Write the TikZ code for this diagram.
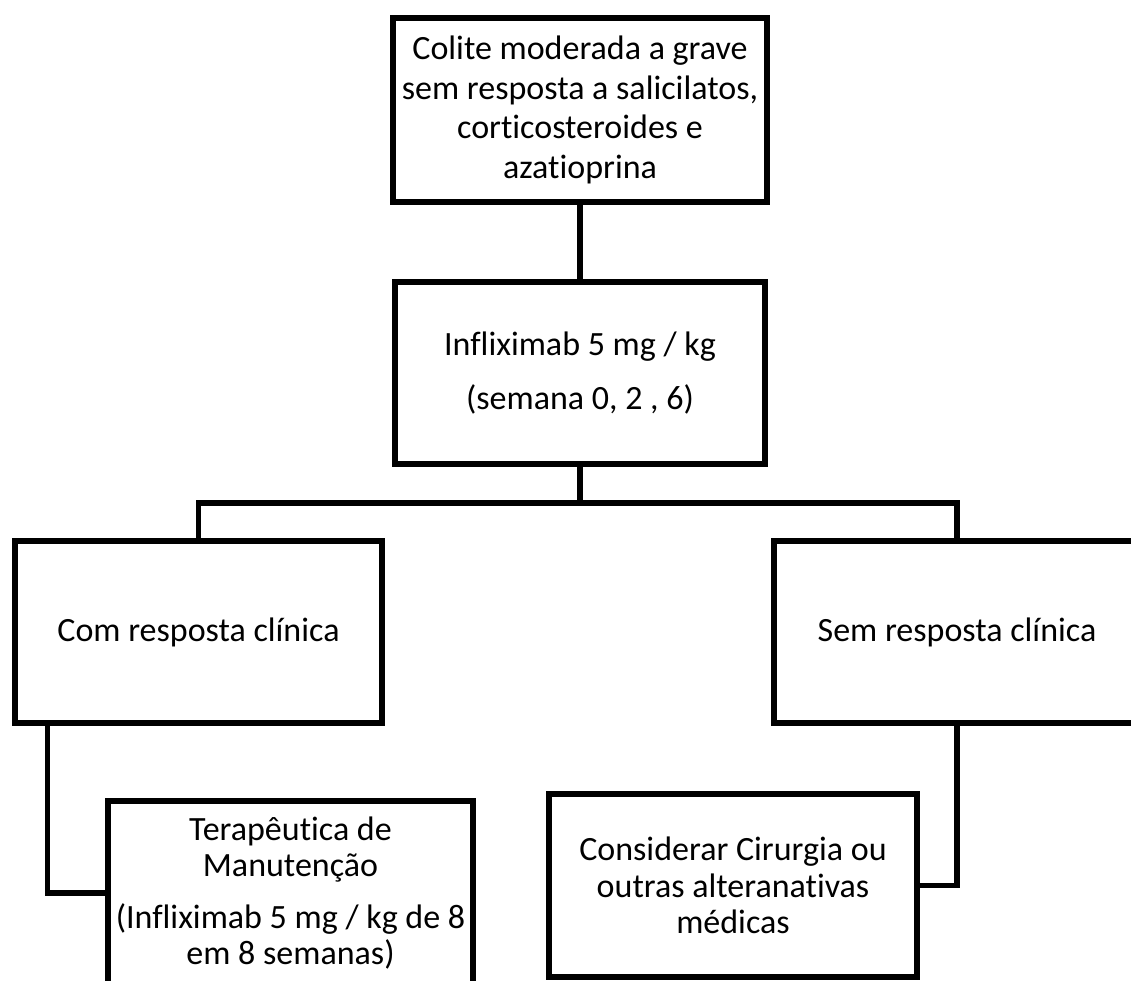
\documentclass[tikz,border=0pt]{standalone}
\usepackage{fontspec}
\setmainfont{Carlito}[Ligatures=NoCommon]
\begin{document}
\begin{tikzpicture}[x=1pt,y=-1pt,
  box/.style={draw=black, line width=5.5pt, fill=white, align=center, inner sep=0pt,
    font=\fontsize{34}{36.5}\selectfont},
  conn/.style={draw=black, line width=5.5pt}]
\useasboundingbox (0,0) rectangle (1131,981);
\node[box, minimum width=374pt, minimum height=184pt, font=\fontsize{34}{39.5}\selectfont] (b1) at (580,110)
  {Colite moderada a grave\\sem resposta a salicilatos,\\corticosteroides e\\azatioprina};
\node[box, minimum width=370pt, minimum height=182pt] (b2) at (580,373)
  {Infliximab 5 mg / kg\\[17pt](semana 0, 2 , 6)};
\node[box, minimum width=367pt, minimum height=182pt] (b3) at (198.5,632)
  {Com resposta clínica};
\node[box, minimum width=366pt, minimum height=182pt] (b4) at (957,632)
  {Sem resposta clínica};
\node[box, minimum width=365pt, minimum height=184pt] (b5) at (290.5,893)
  {Terapêutica de\\Manutenção\\[15pt](Infliximab 5 mg / kg de 8\\em 8 semanas)};
\node[box, minimum width=368pt, minimum height=183pt] (b6) at (733,885.5)
  {Considerar Cirurgia ou\\outras alteranativas\\médicas};
\draw[conn] (b1.south) -- (b2.north);
\draw[conn] (b2.south) -- ++(0,36) coordinate (j);
\draw[conn] (b3.north) |- (j) -| (b4.north);
\draw[conn] ([xshift=35pt]b3.south west) |- (b5.west);
\draw[conn] (b4.south) |- (b6.east);
\end{tikzpicture}
\end{document}
